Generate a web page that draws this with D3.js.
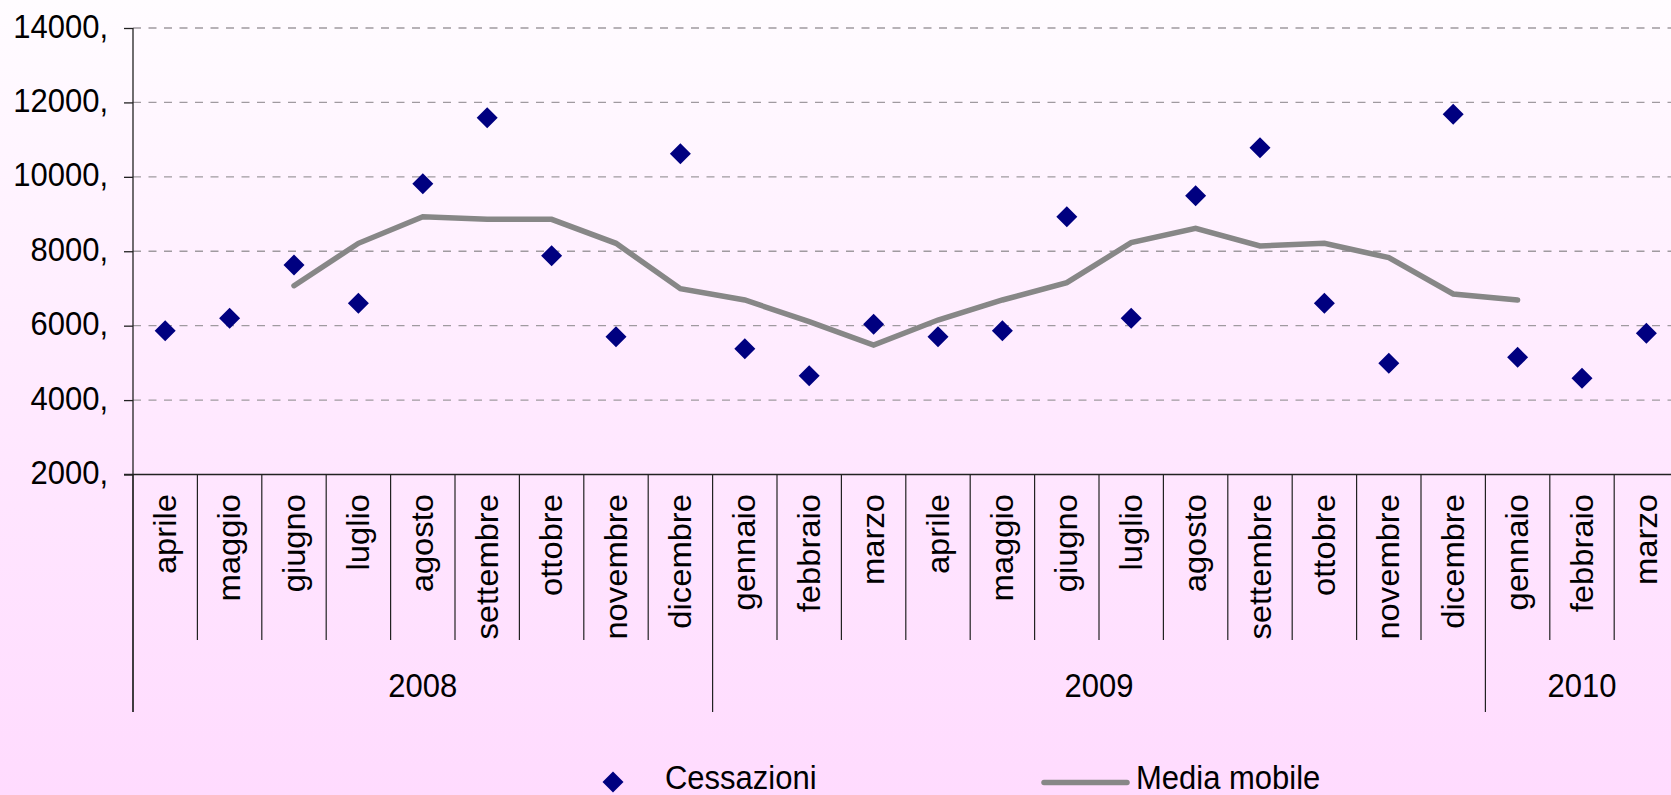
<!DOCTYPE html>
<html>
<head>
<meta charset="utf-8">
<script src="https://cdn.jsdelivr.net/npm/d3@7"></script>
<style>
  html, body { margin: 0; padding: 0; overflow: hidden; }
  svg { display: block; }
  text { font-family: "Liberation Sans", Arial, sans-serif; fill: #000; }
</style>
</head>
<body>
<svg id="chart" width="1671" height="795"></svg>
<script>
// ---- data ----
const months = ["aprile","maggio","giugno","luglio","agosto","settembre","ottobre","novembre","dicembre",
                "gennaio","febbraio","marzo","aprile","maggio","giugno","luglio","agosto","settembre","ottobre","novembre","dicembre",
                "gennaio","febbraio","marzo"];
const yearLabels = ["2008", "2009", "2010"];
const yearSpans = [9, 12, 3];
const cessazioni = [5865, 6198, 7630, 6601, 9815, 11589, 7880, 5704, 10622,
                    5381, 4655, 6036, 5704, 5865, 8928, 6198, 9493, 10783, 6601, 4988, 11680,
                    5150, 4585, 5795];
const mediaMobile = [null, null, 7074, 8213, 8928, 8858, 8858, 8213, 6994,
                     6690, 6107, 5480, 6152, 6690, 7155, 8231, 8616, 8142, 8213, 7827, 6851,
                     6690, null, null];
const yTicks = [2000, 4000, 6000, 8000, 10000, 12000, 14000];
const yTickLabels = ["2000,", "4000,", "6000,", "8000,", "10000,", "12000,", "14000,"];
const legendLabels = ["Cessazioni", "Media mobile"];

(function () {
// ---- layout ----
const W = 1671, H = 795;
const mLeft = 133, mRight = 1678.6, mTop = 28, mBottom = 474.5;
const svg = d3.select("#chart");

const defs = svg.append("defs");
const grad = defs.append("linearGradient").attr("id", "bg").attr("x1", 0).attr("y1", 0).attr("x2", 0).attr("y2", 1);
grad.append("stop").attr("offset", "0%").attr("stop-color", "#fffcff");
grad.append("stop").attr("offset", "60%").attr("stop-color", "#ffe6ff");
grad.append("stop").attr("offset", "100%").attr("stop-color", "#ffdbfe");
svg.append("rect").attr("width", W).attr("height", H).attr("fill", "url(#bg)");

const idx = months.map((d, i) => i);
const x = d3.scaleBand().domain(idx).range([mLeft, mRight]).padding(0);
const y = d3.scaleLinear().domain([2000, 14000]).range([mBottom, mTop]);
const cx = i => x(i) + x.bandwidth() / 2;

// gridlines
svg.append("g").selectAll("line").data(yTicks.slice(1)).join("line")
  .attr("x1", mLeft).attr("x2", W + 20)
  .attr("y1", d => y(d)).attr("y2", d => y(d))
  .attr("stroke", "#a09aa0").attr("stroke-width", 1.3).attr("stroke-dasharray", "8,7.5");

// y axis
const yAxis = d3.axisLeft(y).tickValues(yTicks).tickSize(9).tickPadding(0)
  .tickFormat((d, i) => yTickLabels[i]);
const gy = svg.append("g").attr("transform", `translate(${mLeft},0)`).call(yAxis);
gy.select(".domain").remove();
gy.selectAll(".tick line").attr("stroke", "#222").attr("stroke-width", 1.3);
gy.selectAll(".tick text")
  .attr("font-size", 31).attr("font-family", "Liberation Sans, Arial, sans-serif")
  .attr("fill", "#000")
  .attr("x", null).attr("dy", null).attr("y", null)
  .attr("text-anchor", "end")
  .attr("transform", "translate(-25,9) scale(1,1.057)");

// axis lines
svg.append("line").attr("x1", mLeft).attr("x2", mLeft).attr("y1", mTop).attr("y2", 712)
  .attr("stroke", "#222").attr("stroke-width", 1.3);
svg.append("line").attr("x1", mLeft - 9).attr("x2", W + 20).attr("y1", mBottom).attr("y2", mBottom)
  .attr("stroke", "#222").attr("stroke-width", 1.3);

// category separators
const yearBoundaries = [0];
yearSpans.forEach(s => yearBoundaries.push(yearBoundaries[yearBoundaries.length - 1] + s));
const bx = i => i < months.length ? x(i) : mRight;
const boundaries = d3.range(0, months.length + 1);
svg.append("g").selectAll("line").data(boundaries).join("line")
  .attr("x1", bx).attr("x2", bx)
  .attr("y1", mBottom)
  .attr("y2", i => yearBoundaries.includes(i) ? 712 : 640)
  .attr("stroke", "#222").attr("stroke-width", 1.2);

// month labels
svg.append("g").selectAll("text").data(months).join("text")
  .attr("transform", (d, i) => `translate(${cx(i)},494) rotate(-90) scale(1.057,1)`)
  .attr("text-anchor", "end").attr("dy", "0.34em")
  .attr("font-size", 31)
  .text(d => d);

// year labels
svg.append("g").selectAll("text").data(yearLabels).join("text")
  .attr("transform", (d, i) => {
    const a = bx(yearBoundaries[i]);
    const b = bx(yearBoundaries[i + 1]);
    return `translate(${(a + b) / 2},697) scale(1,1.057)`;
  })
  .attr("text-anchor", "middle").attr("font-size", 31)
  .text(d => d);

// moving average line
const line = d3.line()
  .defined(d => d != null)
  .x((d, i) => cx(i))
  .y(d => y(d));
svg.append("path").datum(mediaMobile)
  .attr("d", line)
  .attr("fill", "none").attr("stroke", "#878787").attr("stroke-width", 5.5)
  .attr("stroke-linecap", "round").attr("stroke-linejoin", "miter");

// diamonds
const diamond = "M0,-10.5L10.5,0L0,10.5L-10.5,0Z";
svg.append("g").selectAll("path").data(cessazioni).join("path")
  .attr("transform", (d, i) => `translate(${cx(i)},${y(d)})`)
  .attr("d", diamond).attr("fill", "#000080");

// legend
const lg = svg.append("g");
lg.append("path").attr("d", diamond).attr("transform", "translate(613,782)").attr("fill", "#000080");
lg.append("text").attr("transform", "translate(665,789) scale(1,1.057)")
  .attr("font-size", 31).text(legendLabels[0]);
lg.append("line").attr("x1", 1044).attr("x2", 1127).attr("y1", 782.5).attr("y2", 782.5)
  .attr("stroke", "#878787").attr("stroke-width", 5.5).attr("stroke-linecap", "round");
lg.append("text").attr("transform", "translate(1136,789) scale(1,1.057)")
  .attr("font-size", 31).text(legendLabels[1]);
})();
</script>
</body>
</html>
